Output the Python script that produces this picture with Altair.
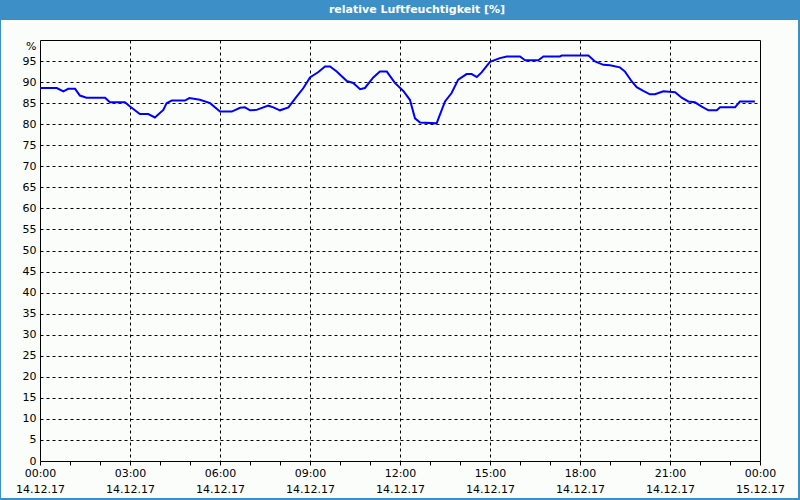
import json
import altair as alt
import pandas as pd

# Measured relative humidity, hours after 14.12.17 00:00
hours = [0.0, 0.56, 0.78, 0.94, 1.17, 1.33, 1.55, 2.17, 2.33, 2.83, 3.0, 3.33, 3.61, 3.83,
         4.11, 4.22, 4.39, 4.83, 4.98, 5.33, 5.67, 6.0, 6.39, 6.67, 6.83, 7.0, 7.22, 7.61,
         7.78, 8.0, 8.28, 8.56, 8.78, 9.0, 9.28, 9.5, 9.67, 9.89, 10.22, 10.44, 10.67, 10.83,
         11.11, 11.33, 11.56, 11.83, 12.11, 12.33, 12.5, 12.67, 13.22, 13.5, 13.72, 13.94,
         14.22, 14.39, 14.56, 14.72, 15.0, 15.33, 15.56, 16.0, 16.17, 16.61, 16.78, 17.33,
         17.39, 18.28, 18.5, 18.78, 19.0, 19.33, 19.5, 19.72, 19.89, 20.11, 20.33, 20.5,
         20.78, 21.17, 21.39, 21.61, 21.83, 22.06, 22.28, 22.56, 22.67, 23.17, 23.33, 23.83]
humidity = [88.6, 88.6, 87.8, 88.4, 88.4, 86.8, 86.3, 86.3, 85.2, 85.2, 84.2, 82.4, 82.4, 81.6,
            83.4, 85.0, 85.6, 85.6, 86.2, 85.8, 85.0, 83.0, 83.0, 83.9, 84.0, 83.3, 83.4, 84.4,
            84.0, 83.3, 84.0, 86.6, 88.6, 91.1, 92.4, 93.7, 93.7, 92.5, 90.3, 89.8, 88.3, 88.6,
            91.1, 92.5, 92.5, 89.8, 87.9, 85.8, 81.4, 80.4, 80.2, 85.4, 87.4, 90.6,
            91.9, 91.9, 91.2, 92.3, 94.8, 95.7, 96.1, 96.1, 95.2, 95.2, 96.1, 96.1,
            96.3, 96.3, 94.9, 94.1, 94.0, 93.5, 92.5, 90.2, 88.8, 87.9, 87.1, 87.1,
            87.8, 87.6, 86.3, 85.4, 85.2, 84.2, 83.3, 83.3, 84.0, 84.0, 85.4, 85.4]

time_labels = ["00:00", "03:00", "06:00", "09:00", "12:00", "15:00", "18:00", "21:00", "00:00"]
date_labels = ["14.12.17"] * 8 + ["15.12.17"]
title_text = "relative Luftfeuchtigkeit [%]"

df = pd.DataFrame({"h": hours, "rh": humidity})

FONT = "DejaVu Sans"
BAR = "#3D8FC7"

x_label_expr = (
    f"datum.value % 3 == 0 ? [{json.dumps(time_labels)}[datum.value / 3], "
    f"{json.dumps(date_labels)}[datum.value / 3]] : ''"
)

x_axis = alt.Axis(
    values=list(range(0, 25)),
    labelExpr=x_label_expr,
    title=None,
    domain=False,
    ticks=True,
    tickSize=4,
    tickColor="black",
    labelColor="black",
    labelFont=FONT,
    labelFontSize=11,
    labelPadding=2,
    labelLineHeight=16,
    labelFlush=False,
    labelOverlap=False,
    grid=True,
    gridColor="black",
    gridDash=[3, 3],
    gridOpacity={"condition": {"test": "datum.value % 3 == 0 && datum.value > 0 && datum.value < 24",
                               "value": 1}, "value": 0},
)

y_axis = alt.Axis(
    values=list(range(0, 101, 5)),
    labelExpr="datum.value == 100 ? '%' : datum.value",
    title=None,
    domain=False,
    ticks=False,
    labelColor="black",
    labelFont=FONT,
    labelFontSize=11,
    labelPadding=4,
    labelOffset={"condition": {"test": "datum.value == 100", "value": 6}, "value": 0},
    labelFlush=False,
    labelOverlap=False,
    grid=True,
    gridColor="black",
    gridDash=[3, 3],
    gridOpacity={"condition": {"test": "datum.value > 0 && datum.value < 100", "value": 1}, "value": 0},
)

line = alt.Chart(df).mark_line(color="#0000FF", strokeWidth=2).encode(
    x=alt.X("h:Q", scale=alt.Scale(domain=[0, 24], nice=False, zero=False), axis=x_axis),
    y=alt.Y("rh:Q", scale=alt.Scale(domain=[0, 100], nice=False), axis=y_axis),
)

one = alt.Data(values=[{"a": 1}])

title_bar = alt.Chart(one).mark_rect(color=BAR).encode(
    x=alt.value(-40), x2=alt.value(760), y=alt.value(-40), y2=alt.value(-20)
)
left_border = alt.Chart(one).mark_rect(color=BAR).encode(
    x=alt.value(-40), x2=alt.value(-39), y=alt.value(-20), y2=alt.value(460)
)
right_border = alt.Chart(one).mark_rect(color=BAR).encode(
    x=alt.value(758), x2=alt.value(760), y=alt.value(-20), y2=alt.value(460)
)
bottom_border = alt.Chart(one).mark_rect(color=BAR).encode(
    x=alt.value(-40), x2=alt.value(760), y=alt.value(458), y2=alt.value(460)
)
title = alt.Chart(one).mark_text(
    color="white", font=FONT, fontSize=11, fontWeight="bold", align="center", baseline="middle"
).encode(x=alt.value(377), y=alt.value(-30), text=alt.value(title_text))

chart = alt.layer(
    line, title_bar, left_border, right_border, bottom_border, title
).properties(
    width=720,
    height=421,
    autosize="none",
    padding={"left": 40, "top": 40, "right": 40, "bottom": 39},
    background="#FBFDFB",
).configure_view(
    stroke="black", strokeWidth=1
)

chart.save("out.html", embed_options={"renderer": "svg", "actions": False})
